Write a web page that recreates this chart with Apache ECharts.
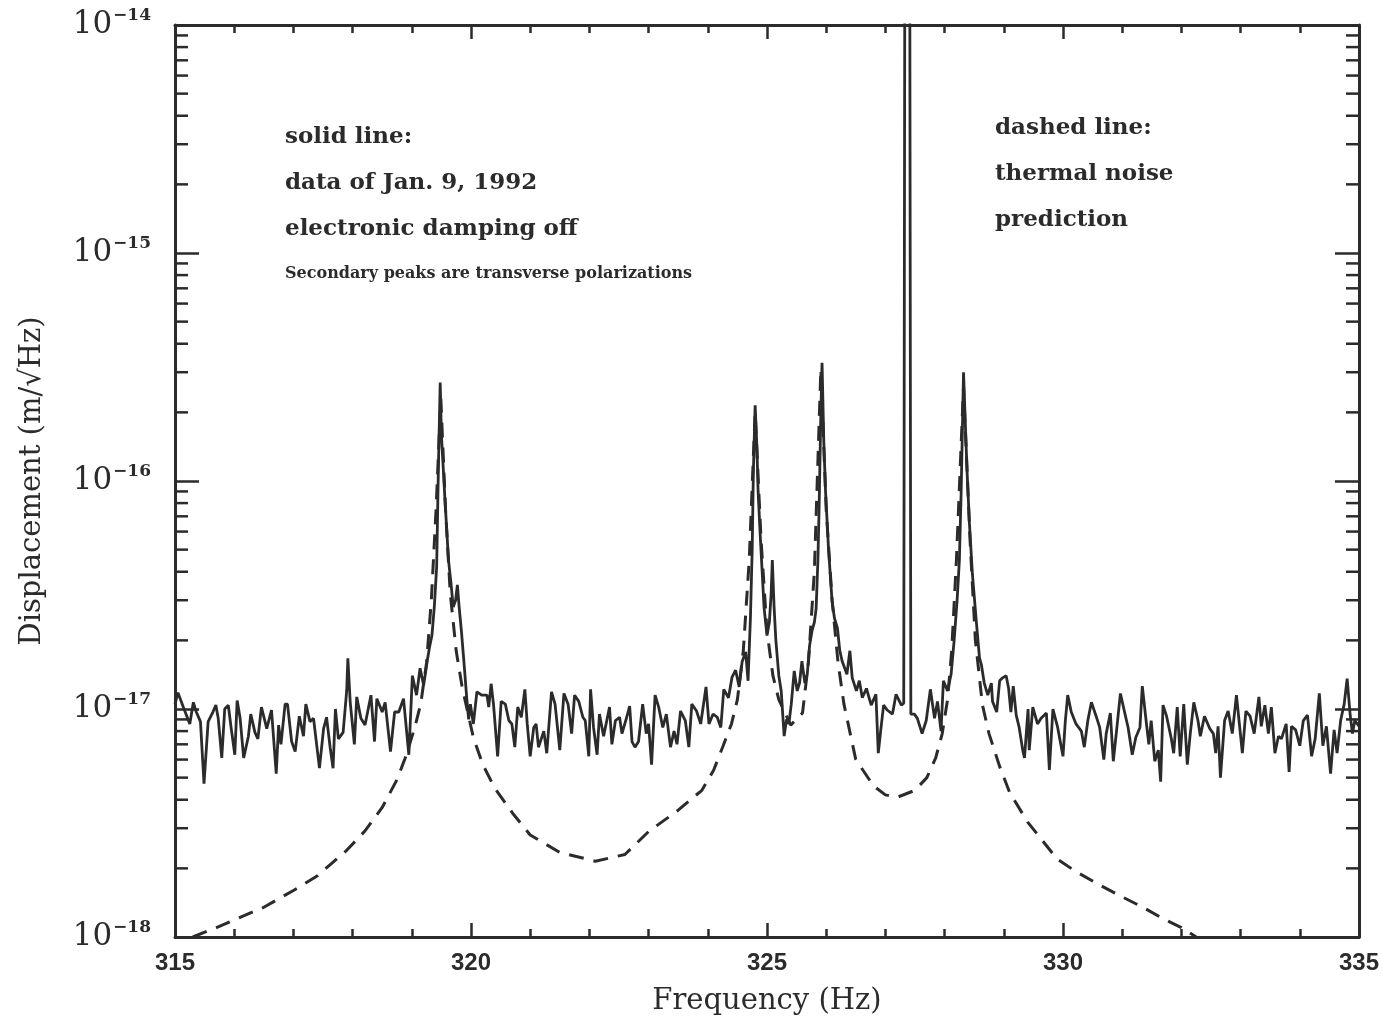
<!DOCTYPE html>
<html>
<head>
<meta charset="utf-8">
<script src="https://cdn.jsdelivr.net/npm/echarts@6.0.0/dist/echarts.min.js"></script>
<style>
  html, body { margin: 0; padding: 0; background: #fff; }
  #main { width: 1382px; height: 1021px; }
</style>
</head>
<body>
<div id="main"></div>
<script>
// displacement values are in units of 1e-18 m/sqrt(Hz)
// measured spectrum (solid), [frequency Hz, displacement]
var measured = [
  [315.0, 10.5], [315.05, 11.8], [315.14, 10.2], [315.25, 8.6], [315.31, 10.7], [315.36, 9.7], [315.43, 8.8], [315.49, 4.7],
  [315.56, 8.8], [315.64, 9.7], [315.69, 10.4], [315.73, 9.1], [315.79, 6.1], [315.84, 10.0], [315.90, 10.4], [315.95, 8.2],
  [316.01, 6.3], [316.05, 10.9], [316.10, 9.1], [316.16, 6.1], [316.24, 7.6], [316.28, 9.5], [316.35, 7.9], [316.40, 7.4],
  [316.46, 10.2], [316.55, 8.2], [316.63, 9.9], [316.71, 5.2], [316.75, 8.5], [316.79, 7.0], [316.86, 10.5], [316.90, 10.5],
  [316.97, 7.2], [317.03, 6.5], [317.10, 9.3], [317.17, 7.6], [317.21, 10.5], [317.28, 8.8], [317.34, 9.1], [317.44, 5.5],
  [317.51, 8.2], [317.56, 9.2], [317.62, 6.8], [317.67, 5.5], [317.71, 10.0], [317.76, 7.4], [317.84, 7.9], [317.90, 12],
  [317.92, 16.7], [317.96, 10.7], [318.03, 7.0], [318.07, 11.3], [318.14, 9.1], [318.21, 8.5], [318.31, 11.5], [318.37, 7.2],
  [318.41, 11.1], [318.50, 9.7], [318.55, 10.7], [318.64, 6.5], [318.71, 9.7], [318.78, 9.7], [318.86, 11.1], [318.95, 6.3],
  [319.01, 14], [319.08, 11.5], [319.14, 15.1], [319.20, 12.7], [319.26, 16.2], [319.30, 18.7], [319.34, 21],
  [319.38, 28], [319.42, 42], [319.45, 117], [319.48, 270], [319.50, 160], [319.56, 83], [319.62, 45], [319.66, 36],
  [319.70, 28], [319.74, 30], [319.77, 35], [319.80, 28], [319.84, 21.7], [319.89, 15], [319.93, 11], [319.96, 9.0],
  [319.99, 10.5], [320.04, 8.6], [320.10, 11.9], [320.18, 11.5], [320.27, 11.5], [320.30, 10.2], [320.34, 12.9], [320.38, 10.5],
  [320.45, 6.2], [320.51, 10.8], [320.58, 10.5], [320.64, 8.9], [320.69, 8.6], [320.74, 6.8], [320.79, 10.2], [320.85, 9.2],
  [320.91, 12.2], [320.95, 8.6], [321.00, 6.2], [321.06, 8.3], [321.10, 8.6], [321.14, 6.8], [321.23, 8.0], [321.28, 6.4],
  [321.36, 11.9], [321.42, 10.5], [321.50, 6.6], [321.57, 11.7], [321.64, 10.5], [321.70, 7.8], [321.75, 11.5], [321.82, 10.8],
  [321.89, 9.2], [321.93, 8.9], [321.99, 6.2], [322.02, 12.2], [322.07, 8.3], [322.13, 6.3], [322.17, 9.5], [322.24, 7.6],
  [322.34, 10.2], [322.38, 7.0], [322.44, 8.9], [322.51, 9.2], [322.55, 7.8], [322.63, 9.2], [322.68, 10.3], [322.72, 7.2],
  [322.77, 6.8], [322.83, 7.2], [322.90, 10.5], [322.96, 7.8], [323.00, 8.6], [323.05, 5.7], [323.11, 11.5], [323.17, 10.2],
  [323.24, 8.3], [323.30, 9.5], [323.37, 6.8], [323.43, 8.0], [323.48, 7.0], [323.54, 9.8], [323.62, 8.9], [323.68, 6.8],
  [323.73, 10.5], [323.81, 9.8], [323.88, 8.6], [323.97, 12.5], [324.02, 8.6], [324.09, 9.5], [324.16, 9.2], [324.22, 8.3],
  [324.27, 12.2], [324.35, 11.2], [324.41, 13.8], [324.47, 14.8], [324.53, 12.5], [324.58, 16.1], [324.64, 17.8], [324.68, 13.3],
  [324.72, 25], [324.75, 50], [324.77, 110], [324.80, 215], [324.83, 140], [324.85, 90], [324.89, 55], [324.95, 28],
  [325.00, 21], [325.04, 24], [325.07, 32], [325.09, 45], [325.12, 28], [325.15, 20], [325.20, 14], [325.24, 12],
  [325.29, 7.6], [325.33, 9.0], [325.37, 8.6], [325.41, 10.5], [325.46, 14.7], [325.51, 12], [325.55, 13], [325.59, 16.2],
  [325.64, 13], [325.68, 14.2], [325.72, 19], [325.76, 22], [325.80, 24], [325.83, 27.5], [325.86, 45], [325.88, 75],
  [325.91, 200], [325.93, 330], [325.96, 148], [325.99, 89], [326.04, 50], [326.10, 29.6], [326.14, 25], [326.19, 22.6],
  [326.23, 18], [326.27, 16.2], [326.35, 14.2], [326.40, 18], [326.44, 13.7], [326.51, 12], [326.56, 13.3], [326.61, 11.2],
  [326.68, 12.3], [326.76, 10.4], [326.84, 11.6], [326.88, 6.4], [326.92, 8.0], [326.97, 10.4], [327.03, 9.9], [327.12, 9.5],
  [327.18, 11.6], [327.27, 10.4], [327.31, 10.6], [327.33, 40000], [327.41, 40000], [327.43, 9.5], [327.49, 9.5], [327.54, 9.1],
  [327.62, 7.8], [327.69, 8.9], [327.76, 12.2], [327.83, 9.1], [327.88, 10.8], [327.94, 8.0], [327.98, 13.3], [328.05, 12],
  [328.11, 14.2], [328.16, 19.8], [328.21, 29.6], [328.25, 45], [328.28, 90], [328.32, 300], [328.35, 180], [328.38, 110],
  [328.42, 65], [328.47, 39], [328.54, 23.5], [328.59, 16.7], [328.62, 15.7], [328.67, 13],
  [328.73, 11.5], [328.79, 13], [328.81, 10.8], [328.88, 9.7], [328.93, 13.3], [328.98, 13.7], [329.04, 14], [329.08, 12.4],
  [329.12, 9.7], [329.16, 12.6], [329.21, 9.4], [329.26, 8.3], [329.32, 6.6], [329.35, 6.1], [329.41, 10], [329.43, 6.6],
  [329.49, 10.2], [329.57, 8.6], [329.63, 9.1], [329.72, 9.6], [329.77, 5.4], [329.83, 10], [329.91, 8.3], [330.00, 6.2],
  [330.04, 8.9], [330.08, 11.5], [330.14, 9.7], [330.22, 8.6], [330.31, 8.0], [330.36, 6.8], [330.42, 8.9], [330.48, 10.7],
  [330.56, 9.3], [330.62, 8.3], [330.69, 6.0], [330.73, 7.8], [330.80, 9.6], [330.85, 5.9], [330.90, 7.8], [330.97, 11.7],
  [331.04, 9.7], [331.10, 8.3], [331.17, 6.3], [331.23, 7.5], [331.30, 8.3], [331.34, 12.6], [331.41, 8.6], [331.45, 7.0],
  [331.49, 8.9], [331.55, 5.9], [331.61, 6.6], [331.65, 4.8], [331.69, 10.4],
  [331.75, 9.3], [331.83, 7.4], [331.87, 6.4], [331.93, 10.2], [331.98, 6.2], [332.04, 10.5], [332.10, 5.7], [332.15, 7.8],
  [332.21, 10.7], [332.28, 8.9], [332.32, 7.6], [332.39, 9.3], [332.48, 8.2], [332.54, 7.8], [332.58, 6.4], [332.62, 8.4],
  [332.66, 5.0], [332.73, 8.9], [332.79, 9.8], [332.86, 7.8], [332.93, 11.5], [332.99, 8.1], [333.03, 6.4], [333.09, 9.8],
  [333.16, 9.3], [333.23, 7.8], [333.31, 11.3], [333.35, 8.4], [333.41, 10.4], [333.47, 7.8], [333.52, 10.2], [333.58, 6.4],
  [333.64, 7.6], [333.69, 7.4], [333.77, 8.6], [333.82, 5.3], [333.86, 8.4], [333.93, 8.1], [334.00, 6.9], [334.06, 8.9],
  [334.13, 9.4], [334.20, 6.2], [334.26, 7.4], [334.33, 11.7], [334.39, 6.9], [334.45, 8.4], [334.52, 5.2], [334.58, 8.1],
  [334.63, 6.4], [334.69, 8.9], [334.75, 10.5], [334.80, 13.6], [334.85, 9.5], [334.89, 7.8], [334.93, 8.9], [335.0, 8.4]
]

// thermal noise prediction (dashed)
var thermal = [
  [315.3, 1.0], [315.7, 1.1], [316.1, 1.22], [316.5, 1.35], [317.0, 1.6], [317.4, 1.85], [317.9, 2.4], [318.2, 2.9],
  [318.5, 3.7], [318.75, 4.9], [318.9, 6.2], [319.05, 8.3], [319.15, 10.5], [319.25, 16], [319.33, 30], [319.41, 75],
  [319.49, 230], [319.57, 75], [319.65, 32], [319.75, 18], [319.85, 12.5], [320.04, 7.5], [320.2, 5.7], [320.4, 4.5],
  [320.7, 3.5], [321.0, 2.8], [321.5, 2.35], [322.1, 2.15], [322.6, 2.3], [323.0, 2.9], [323.5, 3.6], [323.9, 4.4],
  [324.1, 5.4], [324.25, 6.8], [324.4, 8.6], [324.5, 11], [324.6, 18], [324.7, 45], [324.8, 200], [324.9, 55],
  [325.0, 22], [325.1, 14], [325.2, 11], [325.4, 8.5], [325.6, 9.6], [325.7, 16], [325.8, 40], [325.91, 310],
  [326.0, 75], [326.1, 30], [326.2, 16], [326.3, 10.5], [326.5, 6.0], [326.8, 4.6], [327.0, 4.2], [327.2, 4.1],
  [327.5, 4.4], [327.7, 5.0], [327.85, 6.1], [327.96, 7.8], [328.05, 11], [328.12, 18], [328.2, 45], [328.32, 260],
  [328.43, 55], [328.52, 20], [328.64, 10.4], [328.75, 7.8], [328.93, 5.6], [329.1, 4.3], [329.4, 3.2], [329.9, 2.2],
  [330.2, 1.95], [330.6, 1.7], [331.0, 1.5], [331.35, 1.35], [331.7, 1.2], [332.0, 1.1], [332.25, 1.0]
]

// log minor ticks between decades
var minorTicks = [2, 3, 4, 5, 6, 7, 8, 9, 20, 30, 40, 50, 60, 70, 80, 90,
  200, 300, 400, 500, 600, 700, 800, 900, 2000, 3000, 4000, 5000, 6000, 7000, 8000, 9000]

var fMin = 315, fMax = 335
var ink = '#2b2b2b'
var serif = '"DejaVu Serif", "Liberation Serif", serif'

var chart = echarts.init(document.getElementById('main'))

function decadeLabel(v) {
  var e = Math.round(Math.log10(v)) - 18
  return '10{s|' + String(e).replace('-', '\u2212') + '}'
}

var xAxisBase = {
  type: 'value',
  min: fMin,
  max: fMax,
  interval: 5,
  axisLine: { lineStyle: { color: ink, width: 3 } },
  axisTick: { inside: true, length: 14, lineStyle: { color: ink, width: 2.5 } },
  minorTick: { show: true, splitNumber: 5, length: 8, lineStyle: { color: ink, width: 2.5 } },
  splitLine: { show: false }
}
var yAxisBase = {
  type: 'log',
  logBase: 10,
  min: 1,
  max: 10000,
  axisLine: { lineStyle: { color: ink, width: 3 } },
  axisTick: { inside: true, length: 24, lineStyle: { color: ink, width: 2.5 } },
  splitLine: { show: false }
}

var option = {
  animation: false,
  backgroundColor: '#fff',
  grid: { left: 175, right: 22, top: 25, bottom: 81 },
  xAxis: [
    Object.assign({}, xAxisBase, {
      position: 'bottom',
      name: 'Frequency (Hz)',
      nameLocation: 'middle',
      nameGap: 50,
      nameTextStyle: { fontFamily: serif, fontSize: 29, color: ink },
      axisLabel: { fontFamily: '"Liberation Sans", Arial, sans-serif', fontSize: 24, fontWeight: 'bold', color: ink, margin: 14 }
    }),
    Object.assign({}, xAxisBase, { position: 'top', axisLabel: { show: false } })
  ],
  yAxis: [
    Object.assign({}, yAxisBase, {
      position: 'left',
      name: 'Displacement (m/\u221AHz)',
      nameLocation: 'middle',
      nameGap: 128,
      nameTextStyle: { fontFamily: serif, fontSize: 29, color: ink },
      axisLabel: {
        margin: 24,
        formatter: decadeLabel,
        fontFamily: serif,
        fontSize: 31,
        color: ink,
        rich: {
          s: { fontFamily: serif, fontSize: 17, fontWeight: 'bold', color: ink, verticalAlign: 'top', padding: [0, 0, 18, 1] }
        }
      }
    }),
    Object.assign({}, yAxisBase, { position: 'right', axisLabel: { show: false } })
  ],
  graphic: [
    { type: 'text', left: 285, top: 126, style: { text: 'solid line:', font: 'bold 23px ' + serif, fill: ink } },
    { type: 'text', left: 285, top: 172, style: { text: 'data of Jan. 9, 1992', font: 'bold 23px ' + serif, fill: ink } },
    { type: 'text', left: 285, top: 218, style: { text: 'electronic damping off', font: 'bold 23px ' + serif, fill: ink } },
    { type: 'text', left: 285, top: 266, style: { text: 'Secondary peaks are transverse polarizations', font: 'bold 16px ' + serif, fill: ink } },
    { type: 'text', left: 995, top: 117, style: { text: 'dashed line:', font: 'bold 23px ' + serif, fill: ink } },
    { type: 'text', left: 995, top: 163, style: { text: 'thermal noise', font: 'bold 23px ' + serif, fill: ink } },
    { type: 'text', left: 995, top: 209, style: { text: 'prediction', font: 'bold 23px ' + serif, fill: ink } }
  ],
  series: [
    {
      name: 'thermal noise prediction',
      type: 'line',
      data: thermal,
      showSymbol: false,
      clip: true,
      lineStyle: { color: ink, width: 3, type: [15, 10] },
      z: 2
    },
    {
      name: 'data of Jan. 9, 1992',
      type: 'line',
      data: measured,
      showSymbol: false,
      clip: true,
      lineStyle: { color: ink, width: 2.8 },
      z: 3
    },
    {
      // minor ticks of the log axes, left and right side
      type: 'custom',
      data: minorTicks.map(function (v) { return [fMin, v] }),
      silent: true,
      renderItem: function (params, api) {
        var l = api.coord([fMin, api.value(1)])
        var r = api.coord([fMax, api.value(1)])
        var st = { stroke: ink, lineWidth: 2.5 }
        return {
          type: 'group',
          children: [
            { type: 'line', shape: { x1: l[0], y1: l[1], x2: l[0] + 13, y2: l[1] }, style: st },
            { type: 'line', shape: { x1: r[0], y1: r[1], x2: r[0] - 13, y2: r[1] }, style: st }
          ]
        }
      }
    }
  ]
}

chart.setOption(option)
</script>
</body>
</html>
